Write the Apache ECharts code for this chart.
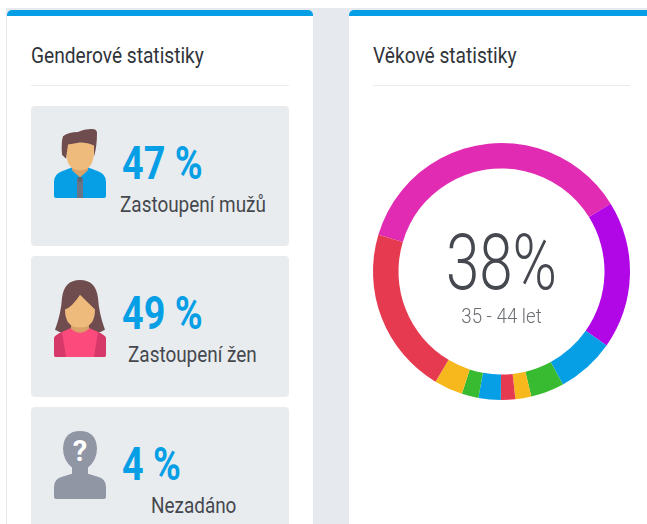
<!DOCTYPE html>
<html>
<head>
<meta charset="utf-8" />
<title>Statistiky</title>
<script src="https://cdn.jsdelivr.net/npm/echarts@6/dist/echarts.min.js"></script>
<style>
html, body { margin: 0; padding: 0; background: #fff; }
body { width: 647px; height: 524px; overflow: hidden; position: relative; font-family: Roboto, sans-serif; }
.page { position: absolute; left: 6px; top: 8px; right: 0; bottom: 0; background: #e6e9ee; }
.card { position: absolute; top: 10px; height: 514px; background: #fff; border-top: 6px solid #069fe6; border-radius: 5px 5px 0 0; box-sizing: border-box; }
.card.left { left: 7px; width: 306px; }
.card.right { left: 349px; width: 298px; border-top-right-radius: 0; }
.title { position: absolute; top: 43px; font-size: 22px; color: #30343a; transform: scaleX(0.87); transform-origin: left top; white-space: nowrap; line-height: 26px; }
.rule { position: absolute; top: 85px; height: 1px; background: #e9ebef; }
.tile { position: absolute; left: 31px; width: 258px; background: #e9ecef; border-radius: 4px; }
.tile svg { position: absolute; left: 23px; width: 52px; }
.value { position: absolute; left: 91px; top: 30px; font-size: 46px; line-height: 54px; font-weight: 700; color: #069fe6; transform: scaleX(0.82); transform-origin: left top; white-space: nowrap; }
.label { position: absolute; top: 85px; font-size: 22px; line-height: 28px; color: #45484e; transform: scaleX(0.86); transform-origin: left top; white-space: nowrap; }
#ageChart { position: absolute; left: 349px; top: 120px; width: 298px; height: 304px; }
</style>
</head>
<body>
<div class="page"></div>
<div class="card left"></div>
<div class="card right"></div>

<div class="title" style="left:31px">Genderové statistiky</div>
<div class="rule" style="left:31px;width:258px"></div>
<div class="title" style="left:373px">Věkové statistiky</div>
<div class="rule" style="left:373px;width:257px"></div>

<div class="tile" style="top:106px;height:140px">
  <svg viewBox="0 1 52 67" preserveAspectRatio="none" style="top:23px;height:69px">
    <path d="M2 68 Q0 68 0 66 L0 52 Q0 45 8 42 L19 38 L33 38 L44 42 Q52 45 52 52 L52 66 Q52 68 50 68 Z" fill="#069fe6"/>
    <path d="M18 36 L34 36 L34 41 L26 48 L18 41 Z" fill="#d9a268"/>
    <path d="M23 50 L29 50 L29 68 L23 68 Z" fill="#6c7585"/>
    <circle cx="26" cy="50" r="2.6" fill="#5f6675"/>
    <path d="M12 22 Q12 41 26 41 Q40 41 40 22 L40 14 L12 14 Z" fill="#efbb7c"/>
    <path d="M8 26 Q7 14 9 8 Q15 4 24 4 Q30 1 38 1 Q43 1 43 5 Q43 18 40 28 L40 17 Q34 14 26 14 L14 16 L12 30 Z" fill="#6f4d4f"/>
  </svg>
  <div class="value">47 %</div>
  <div class="label" style="left:89px">Zastoupení mužů</div>
</div>

<div class="tile" style="top:256px;height:141px">
  <svg viewBox="0 0 52 68" preserveAspectRatio="none" style="top:24px;height:77px">
    <path d="M26 0 Q42 0 44 16 Q45 30 51 44 Q42 49 26 49 Q10 49 1 44 Q7 30 8 16 Q10 0 26 0 Z" fill="#6f4d4f"/>
    <path d="M0 52 Q0 49 8 46 L18 42 L34 42 L44 46 Q52 49 52 52 L52 66 Q52 68 50 68 L2 68 Q0 68 0 66 Z" fill="#fd4a7c"/>
    <path d="M0 52 Q0 49 8 46 L12 68 L2 68 Q0 68 0 66 Z M52 52 Q52 49 44 46 L40 68 L50 68 Q52 68 52 66 Z" fill="#d6386a"/>
    <path d="M17 36 L35 36 L35 43 Q26 50 17 43 Z" fill="#d9a268"/>
    <path d="M26 13 Q34 20 41 26 Q41 42 26 42 Q11 42 11 26 Q18 24 26 13 Z" fill="#efbb7c"/>
  </svg>
  <div class="value">49 %</div>
  <div class="label" style="left:97px">Zastoupení žen</div>
</div>

<div class="tile" style="top:407px;height:130px">
  <svg viewBox="0 1 52 67" preserveAspectRatio="none" style="top:24px;height:68px">
    <path d="M2 68 Q0 68 0 66 L0 56 Q0 48 8 46 L18 43 L18 37 Q9 30 9 18 Q10 1 26 1 Q42 1 43 18 Q43 30 34 37 L34 43 L44 46 Q52 48 52 56 L52 66 Q52 68 50 68 Z" fill="#9096a4"/>
    <text x="26" y="31" text-anchor="middle" font-family="Roboto" font-weight="700" font-size="29" fill="#fff">?</text>
  </svg>
  <div class="value">4 %</div>
  <div class="label" style="left:120px">Nezadáno</div>
</div>

<div id="ageChart"></div>

<script>
// podily vycteny z obrazku, poradi po smeru hodin od fialove vysece
const ageValues = [36.5, 18.6, 7.3, 4.2, 2.0, 1.8, 2.8, 2.1, 3.6, 21.0];
const ageColors = ["#e22bb3", "#b106e6", "#069fe6", "#38bb31", "#f6b81c", "#e63a50", "#069fe6", "#38bb31", "#f6b81c", "#e63a50"];
const topValue = "38%";
const topGroup = "35 - 44 let";

const ageChart = echarts.init(document.getElementById("ageChart"));
ageChart.setOption({
  animation: false,
  graphic: [
    {
      type: "text",
      x: 152.5,
      y: 150,
      scaleX: 0.78,
      style: { text: topValue, font: "300 77px Roboto", fill: "#45484e", align: "center", verticalAlign: "middle" },
    },
    {
      type: "text",
      x: 152.5,
      y: 197.5,
      scaleX: 0.89,
      style: { text: topGroup, font: "300 21px Roboto", fill: "#6b6e73", align: "center", verticalAlign: "middle" },
    },
  ],
  series: [
    {
      type: "pie",
      center: [152.5, 151.5],
      radius: [103, 128.5],
      startAngle: 163.4,
      silent: true,
      label: { show: false },
      labelLine: { show: false },
      data: ageValues.map((value, i) => ({ value: value, itemStyle: { color: ageColors[i] } })),
    },
  ],
});
</script>
</body>
</html>
